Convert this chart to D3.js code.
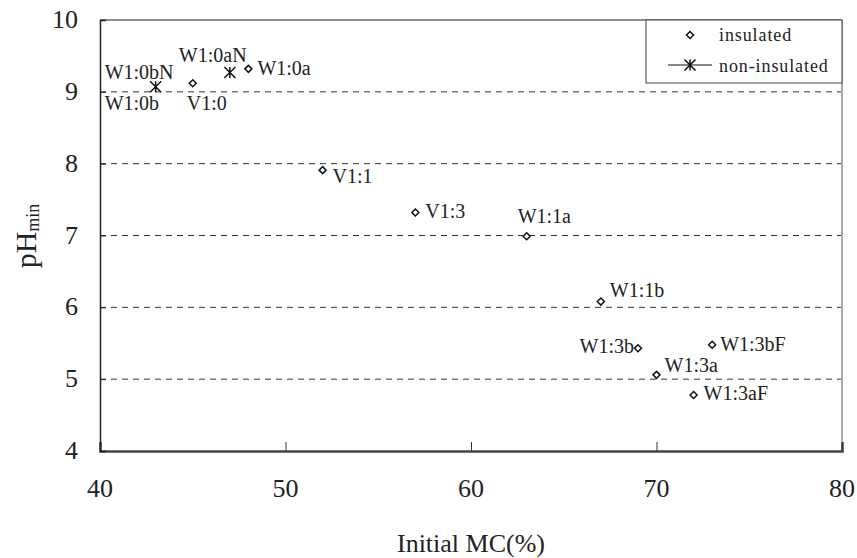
<!DOCTYPE html>
<html>
<head>
<meta charset="utf-8">
<script src="https://cdn.jsdelivr.net/npm/d3@7"></script>
<style>
  body { margin: 0; background: #fff; }
  svg text { font-family: 'Liberation Serif', 'DejaVu Serif', serif; fill: #222; }
</style>
</head>
<body>
<div id="chart"></div>
<script>
// data
var insulatedNames = ['V1:0', 'W1:0a', 'V1:1', 'V1:3', 'W1:1a', 'W1:1b', 'W1:3b', 'W1:3bF', 'W1:3a', 'W1:3aF'];
var insulatedMC    = [45, 48, 52, 57, 63, 67, 69, 73, 70, 72];
var insulatedPH    = [9.12, 9.32, 7.91, 7.32, 6.99, 6.08, 5.43, 5.48, 5.06, 4.78];

var nonInsNames = ['W1:0bN', 'W1:0aN'];
var nonInsMC    = [43, 47];
var nonInsPH    = [9.07, 9.27];

// extra label sitting under W1:0bN
var extraNames = ['W1:0b'];
var extraMC    = [43];
var extraPH    = [9.07];

var xTicks = [40, 50, 60, 70, 80];
var yTicks = [4, 5, 6, 7, 8, 9, 10];
var gridTicks = [5, 6, 7, 8, 9];
var legendNames = ['insulated', 'non-insulated'];

var w = 857, h = 558;
var x = d3.scaleLinear().domain([40, 80]).range([100, 842]);
var y = d3.scaleLinear().domain([4, 10]).range([451, 20]);

var svg = d3.select("#chart").append("svg")
    .attr("width", w).attr("height", h)
    .attr("font-family", "Liberation Serif, DejaVu Serif, serif");

// gridlines
svg.selectAll(".grid").data(gridTicks).enter().append("line")
    .attr("x1", x(40)).attr("x2", x(80))
    .attr("y1", function(d){ return y(d); })
    .attr("y2", function(d){ return y(d); })
    .attr("stroke", "#333").attr("stroke-width", 1)
    .attr("stroke-dasharray", "6,5");

// frame: top and right
svg.append("line").attr("x1", x(40)).attr("x2", x(80)).attr("y1", y(10)).attr("y2", y(10))
    .attr("stroke", "#666").attr("stroke-width", 1.5);
svg.append("line").attr("x1", x(80)).attr("x2", x(80)).attr("y1", y(10)).attr("y2", y(4))
    .attr("stroke", "#aaa").attr("stroke-width", 2);

// axes
var xAxis = d3.axisBottom(x).tickValues(xTicks).tickSize(-9).tickFormat("");
var yAxis = d3.axisLeft(y).tickValues(yTicks).tickSize(-6).tickFormat("");

var gx = svg.append("g").attr("transform", "translate(0," + y(4) + ")").call(xAxis);
gx.select(".domain").attr("stroke", "#444").attr("stroke-width", 2.5);
gx.selectAll(".tick line").attr("stroke", "#333").attr("stroke-width", 1);

var gy = svg.append("g").attr("transform", "translate(" + x(40) + ",0)").call(yAxis);
gy.select(".domain").attr("stroke", "#222").attr("stroke-width", 1.5);
gy.selectAll(".tick line").attr("stroke", "#222").attr("stroke-width", 1);

// tick labels
svg.selectAll(".xlab").data(xTicks).enter().append("text")
    .attr("x", function(d){ return x(d); }).attr("y", 497)
    .attr("text-anchor", "middle").attr("font-size", "26px")
    .text(function(d){ return d; });
svg.selectAll(".ylab").data(yTicks).enter().append("text")
    .attr("x", 78).attr("y", function(d){ return y(d) + 8; })
    .attr("text-anchor", "end").attr("font-size", "26px")
    .text(function(d){ return d; });

// axis titles
svg.append("text").attr("x", 471).attr("y", 552)
    .attr("text-anchor", "middle").attr("font-size", "26px")
    .text("Initial MC(%)");
var yt = svg.append("text").attr("transform", "translate(36,236) rotate(-90)")
    .attr("text-anchor", "middle");
yt.append("tspan").attr("font-size", "30px").text("pH");
yt.append("tspan").attr("font-size", "18px").attr("dy", 3).text("min");

// markers
function diamond(g, cx, cy) {
    g.append("path")
        .attr("d", "M" + cx + "," + (cy - 3.5) + "L" + (cx + 3.5) + "," + cy +
                   "L" + cx + "," + (cy + 3.5) + "L" + (cx - 3.5) + "," + cy + "Z")
        .attr("fill", "#fff").attr("stroke", "#111").attr("stroke-width", 1.5);
}
function star(g, cx, cy) {
    var r = 5.5;
    g.append("path")
        .attr("d", "M" + (cx - r) + "," + (cy - r) + "L" + (cx + r) + "," + (cy + r) +
                   "M" + (cx + r) + "," + (cy - r) + "L" + (cx - r) + "," + (cy + r) +
                   "M" + cx + "," + (cy - r) + "L" + cx + "," + (cy + r))
        .attr("stroke", "#111").attr("stroke-width", 1.5).attr("fill", "none");
}

var pts = svg.append("g");
for (var i = 0; i < insulatedNames.length; i++) diamond(pts, x(insulatedMC[i]), y(insulatedPH[i]));
for (var i = 0; i < nonInsNames.length; i++) star(pts, x(nonInsMC[i]), y(nonInsPH[i]));

// label placement (dx, dy, anchor) per point name
var place = {
    'V1:0':   [-6, 27, 'start'],
    'W1:0a':  [9, 6, 'start'],
    'V1:1':   [10, 13, 'start'],
    'V1:3':   [10, 5, 'start'],
    'W1:1a':  [-9, -13, 'start'],
    'W1:1b':  [9, -5, 'start'],
    'W1:3b':  [-4, 5, 'end'],
    'W1:3bF': [8, 6, 'start'],
    'W1:3a':  [8, -3, 'start'],
    'W1:3aF': [10, 5, 'start'],
    'W1:0bN': [-51, -8, 'start'],
    'W1:0aN': [-51, -10, 'start'],
    'W1:0b':  [-51, 23, 'start']
};
function label(name, mc, ph) {
    var p = place[name];
    svg.append("text")
        .attr("x", x(mc) + p[0]).attr("y", y(ph) + p[1])
        .attr("text-anchor", p[2]).attr("font-size", "20px")
        .text(name);
}
for (var i = 0; i < insulatedNames.length; i++) label(insulatedNames[i], insulatedMC[i], insulatedPH[i]);
for (var i = 0; i < nonInsNames.length; i++) label(nonInsNames[i], nonInsMC[i], nonInsPH[i]);
for (var i = 0; i < extraNames.length; i++) label(extraNames[i], extraMC[i], extraPH[i]);

// legend
var lg = svg.append("g");
lg.append("rect").attr("x", 646).attr("y", 20).attr("width", 196).attr("height", 63)
    .attr("fill", "#fff").attr("stroke", "#444").attr("stroke-width", 1);
diamond(lg, 690, 35);
lg.append("line").attr("x1", 668).attr("x2", 712).attr("y1", 65).attr("y2", 65)
    .attr("stroke", "#111").attr("stroke-width", 1);
star(lg, 690, 65);
lg.selectAll(".lt").data(legendNames).enter().append("text")
    .attr("x", 719).attr("y", function(d, i){ return 41 + i * 31; })
    .attr("font-size", "18px").attr("letter-spacing", "0.9px")
    .text(function(d){ return d; });
</script>
</body>
</html>
